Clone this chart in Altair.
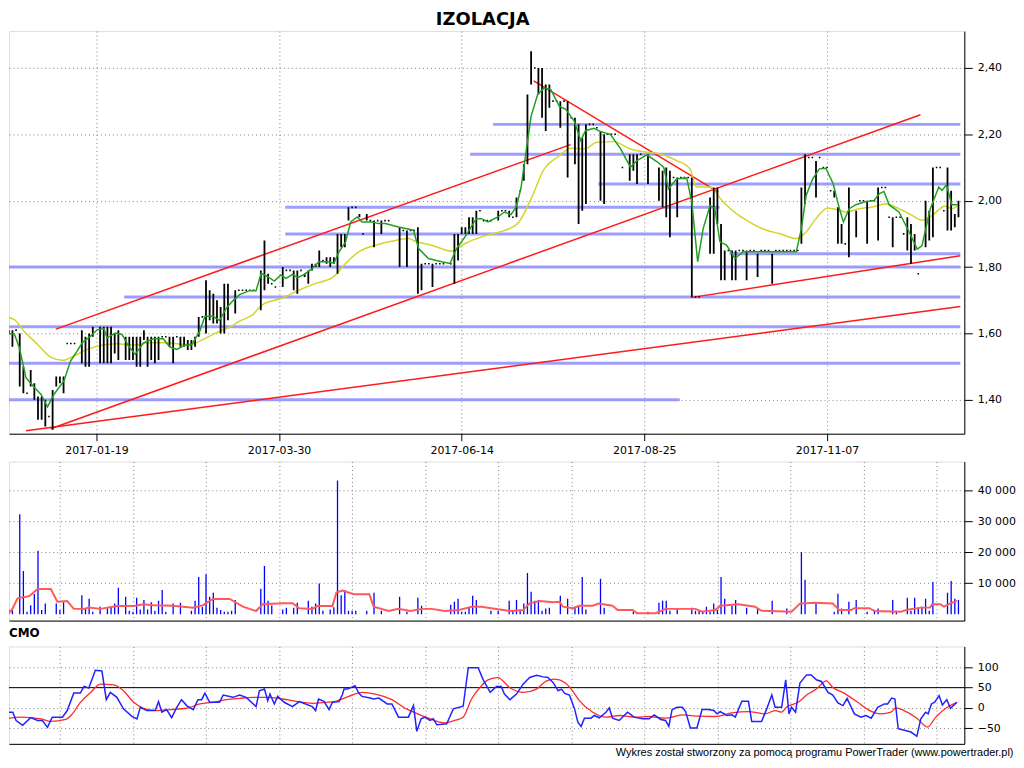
import altair as alt
import pandas as pd

FONT = "DejaVu Sans"
GRID = "#808080"

# ---------------- x axis (trading-day index) ----------------
date_ticks = [25, 75, 125, 175, 225]
date_labels = ["2017-01-19", "2017-03-30", "2017-06-14", "2017-08-25", "2017-11-07"]
grid_ticks = [15, 35, 55, 75, 95, 115, 135, 155, 175, 195, 215, 235, 255]

# ---------------- price bars (high / low per session) ----------------
bar_t = [1, 2, 3, 4, 5, 6, 7, 8, 9, 10,
         11, 12, 13, 14, 15, 16, 17, 18, 19, 21,
         22, 23, 24, 26, 27, 28, 29, 30, 31, 33,
         34, 35, 36, 37, 38, 39, 40, 41, 42, 43,
         44, 45, 46, 47, 48, 49, 50, 51, 52, 53,
         54, 55, 56, 57, 58, 59, 60, 61, 63, 64,
         65, 66, 67, 68, 70, 71, 72, 73, 74, 76,
         77, 78, 79, 80, 81, 82, 83, 84, 85, 86,
         87, 88, 89, 90, 91, 92, 93, 94, 95, 96,
         97, 98, 99, 100, 101, 102, 103, 104, 105, 108,
         109, 110, 111, 112, 113, 114, 115, 116, 117, 118,
         119, 120, 122, 123, 124, 125, 126, 127, 128, 129,
         130, 131, 132, 133, 135, 136, 137, 138, 139, 140,
         141, 142, 143, 144, 145, 146, 147, 148, 149, 150,
         151, 152, 153, 154, 155, 156, 157, 158, 159, 160,
         161, 162, 163, 164, 165, 166, 167, 169, 171, 172,
         173, 174, 176, 179, 180, 181, 182, 183, 184, 185,
         186, 187, 188, 189, 190, 193, 194, 195, 196, 197,
         198, 199, 200, 201, 202, 203, 204, 205, 206, 207,
         208, 209, 210, 211, 212, 213, 214, 215, 216, 217,
         218, 219, 220, 221, 222, 223, 224, 225, 226, 227,
         228, 229, 230, 231, 233, 234, 235, 236, 237, 238,
         239, 240, 241, 242, 243, 244, 245, 246, 247, 248,
         249, 250, 252, 253, 254, 255, 256, 257, 258, 259,
         260, 261]
bar_hi = [1.61, 1.61, 1.61, 1.60, 1.50, 1.42, 1.49, 1.45, 1.41, 1.41,
          1.40, 1.35, 1.43, 1.47, 1.47, 1.47, 1.57, 1.57, 1.57, 1.61,
          1.59, 1.60, 1.62, 1.62, 1.62, 1.62, 1.62, 1.60, 1.61, 1.59,
          1.59, 1.59, 1.59, 1.59, 1.61, 1.59, 1.59, 1.59, 1.59, 1.59,
          1.59, 1.59, 1.59, 1.59, 1.59, 1.59, 1.58, 1.58, 1.59, 1.65,
          1.65, 1.76, 1.73, 1.72, 1.70, 1.68, 1.75, 1.75, 1.73, 1.73,
          1.73, 1.73, 1.73, 1.73, 1.79, 1.88, 1.78, 1.75, 1.74, 1.80,
          1.79, 1.79, 1.79, 1.79, 1.79, 1.78, 1.79, 1.81, 1.81, 1.85,
          1.82, 1.83, 1.83, 1.83, 1.90, 1.90, 1.90, 1.98, 1.98, 1.98,
          1.96, 1.90, 1.96, 1.94, 1.94, 1.94, 1.94, 1.94, 1.94, 1.92,
          1.91, 1.91, 1.91, 1.91, 1.92, 1.81, 1.81, 1.81, 1.81, 1.81,
          1.81, 1.81, 1.81, 1.90, 1.90, 1.92, 1.92, 1.95, 1.95, 1.97,
          1.97, 1.94, 1.94, 1.94, 1.97, 1.97, 1.97, 1.97, 1.95, 2.01,
          2.03, 2.11, 2.32, 2.45, 2.40, 2.40, 2.40, 2.35, 2.35, 2.30,
          2.30, 2.30, 2.30, 2.30, 2.25, 2.25, 2.23, 2.19, 2.23, 2.23,
          2.23, 2.22, 2.21, 2.20, 2.20, 2.20, 2.20, 2.10, 2.14, 2.14,
          2.14, 2.14, 2.14, 2.10, 2.09, 2.10, 2.09, 2.07, 2.07, 2.07,
          2.07, 2.07, 2.07, 1.71, 1.71, 2.01, 2.04, 2.04, 1.93, 1.85,
          1.85, 1.85, 1.85, 1.85, 1.85, 1.85, 1.85, 1.85, 1.84, 1.85,
          1.85, 1.85, 1.84, 1.85, 1.85, 1.85, 1.85, 1.85, 1.85, 1.85,
          2.04, 2.14, 2.13, 2.13, 2.12, 2.13, 2.10, 2.10, 2.03, 2.03,
          1.98, 1.93, 1.87, 2.04, 1.97, 2.00, 2.00, 2.00, 2.00, 2.00,
          2.04, 2.04, 2.04, 1.95, 1.95, 1.95, 1.95, 1.90, 1.95, 1.93,
          1.90, 1.78, 2.00, 1.97, 2.10, 2.10, 2.10, 1.97, 2.10, 2.03,
          1.96, 2.00]
bar_lo = [1.60, 1.56, 1.61, 1.44, 1.42, 1.42, 1.44, 1.40, 1.34, 1.34,
          1.32, 1.35, 1.31, 1.44, 1.45, 1.42, 1.57, 1.57, 1.57, 1.51,
          1.50, 1.50, 1.59, 1.51, 1.51, 1.51, 1.51, 1.54, 1.52, 1.52,
          1.52, 1.52, 1.50, 1.50, 1.58, 1.50, 1.52, 1.51, 1.52, 1.59,
          1.59, 1.56, 1.51, 1.59, 1.56, 1.56, 1.55, 1.55, 1.56, 1.59,
          1.65, 1.60, 1.64, 1.63, 1.63, 1.60, 1.60, 1.64, 1.66, 1.73,
          1.73, 1.73, 1.73, 1.73, 1.67, 1.73, 1.75, 1.75, 1.74, 1.74,
          1.79, 1.79, 1.73, 1.72, 1.79, 1.77, 1.75, 1.79, 1.80, 1.80,
          1.82, 1.81, 1.80, 1.81, 1.78, 1.86, 1.86, 1.94, 1.98, 1.98,
          1.95, 1.90, 1.94, 1.94, 1.86, 1.94, 1.90, 1.94, 1.94, 1.80,
          1.91, 1.80, 1.91, 1.91, 1.72, 1.73, 1.81, 1.81, 1.74, 1.81,
          1.81, 1.81, 1.81, 1.75, 1.82, 1.90, 1.90, 1.90, 1.90, 1.90,
          1.97, 1.94, 1.94, 1.94, 1.94, 1.97, 1.97, 1.95, 1.95, 1.95,
          2.03, 2.06, 2.11, 2.35, 2.40, 2.32, 2.25, 2.21, 2.28, 2.30,
          2.30, 2.22, 2.30, 2.07, 2.25, 2.11, 1.93, 1.97, 1.99, 2.23,
          2.23, 2.22, 2.00, 1.99, 2.20, 2.20, 2.20, 2.10, 2.06, 2.09,
          2.05, 2.14, 2.05, 2.00, 1.98, 1.95, 1.89, 2.07, 1.95, 2.07,
          2.07, 2.07, 1.71, 1.71, 1.71, 1.84, 1.84, 1.93, 1.76, 1.76,
          1.85, 1.76, 1.76, 1.85, 1.85, 1.76, 1.85, 1.85, 1.77, 1.85,
          1.85, 1.85, 1.75, 1.85, 1.85, 1.85, 1.85, 1.85, 1.85, 1.85,
          1.87, 1.99, 2.13, 2.13, 2.01, 2.13, 2.10, 2.10, 2.03, 2.01,
          1.87, 1.87, 1.87, 1.83, 1.89, 2.00, 2.00, 1.87, 2.00, 2.00,
          1.88, 2.04, 2.04, 1.95, 1.86, 1.95, 1.95, 1.90, 1.85, 1.81,
          1.85, 1.78, 1.86, 1.88, 1.89, 2.10, 2.10, 1.97, 1.91, 1.91,
          1.92, 1.95]

# ---------------- moving averages on price ----------------
green_t = [0, 2.5, 3.9, 5.7, 8.0, 9.8, 11.6, 13.4, 16.1, 17.9, 19.7, 21.1, 23.4, 25.2, 27.0, 27.9,
           30.2, 32.0, 33.8, 35.6, 37.9, 40.6, 43.3, 45.1, 47.0, 49.2, 51.0, 53.3, 54.7, 56.9,
           58.7, 60.6, 62.4, 64.2, 66.9, 68.7, 70.1, 71.9, 73.7, 75.5, 76.9, 78.7, 80.1, 81.9,
           84.1, 85.9, 88.7, 90.0, 91.4, 93.2, 94.6, 96.4, 97.7, 100.5, 102.3, 104.1, 107.7,
           111.8, 113.2, 115.9, 119.5, 121.8, 123.6, 125.9, 129.0, 130.4, 132.2, 134.9, 136.7,
           138.5, 139.9, 141.2, 142.6, 144.0, 145.8, 147.6, 149.4, 151.7, 153.5, 155.8, 157.6,
           158.9, 161.2, 163.0, 165.7, 168.5, 171.2, 173.0, 175.7, 178.4, 180.3, 181.6, 183.9,
           186.6, 188.0, 189.6, 191.1, 193.0, 194.3, 195.7, 197.5, 199.8, 202.0, 205.6, 216.6,
           218.0, 219.3, 221.1, 222.9, 224.7, 226.7, 228.4, 229.5, 231.1, 232.9, 235.2, 237.9,
           239.3, 240.6, 242.0, 244.7, 247.4, 249.7, 251.0, 253.3, 255.6, 256.5, 257.7, 259.2,
           260.7]
green_p = [1.599, 1.599, 1.557, 1.467, 1.437, 1.417, 1.379, 1.417, 1.457, 1.517, 1.547, 1.572,
           1.592, 1.611, 1.615, 1.587, 1.601, 1.597, 1.562, 1.537, 1.572, 1.584, 1.584, 1.559,
           1.552, 1.565, 1.565, 1.607, 1.652, 1.652, 1.639, 1.677, 1.699, 1.717, 1.729, 1.729,
           1.781, 1.771, 1.758, 1.776, 1.766, 1.778, 1.768, 1.778, 1.796, 1.816, 1.816, 1.811,
           1.846, 1.876, 1.936, 1.951, 1.936, 1.936, 1.931, 1.931, 1.921, 1.911, 1.856, 1.826,
           1.816, 1.811, 1.856, 1.891, 1.946, 1.946, 1.936, 1.951, 1.966, 1.958, 1.981, 2.036,
           2.146, 2.255, 2.320, 2.340, 2.335, 2.285, 2.275, 2.240, 2.181, 2.211, 2.218, 2.208,
           2.200, 2.156, 2.101, 2.121, 2.138, 2.118, 2.101, 2.036, 2.066, 2.068, 1.996, 1.816,
           1.916, 1.986, 1.976, 1.876, 1.866, 1.826, 1.846, 1.846, 1.846, 1.916, 2.016, 2.066,
           2.096, 2.098, 2.051, 1.976, 1.936, 1.976, 1.988, 1.996, 2.001, 2.021, 2.028, 1.988,
           1.966, 1.908, 1.854, 1.864, 1.976, 2.041, 2.031, 2.048, 1.988, 1.988]

yellow_t = [0, 2.5, 5.2, 8.9, 12.5, 15.7, 18.8, 22.5, 26.1, 30.6, 35.2, 39.7, 44.2, 48.8, 51.5,
            54.2, 57.8, 61.5, 64.2, 67.8, 70.5, 76.0, 80.5, 85.0, 89.6, 93.2, 96.8, 101.4, 105.9,
            110.4, 112.3, 116.8, 122.2, 125.9, 130.4, 134.9, 140.3, 144.0, 147.6, 151.2, 154.9,
            158.5, 162.1, 166.6, 171.2, 175.7, 179.3, 183.9, 187.5, 189.3, 192.9, 196.6, 200.2,
            203.0, 208.4, 212.0, 216.6, 219.3, 222.0, 225.2, 228.4, 230.2, 233.8, 237.4, 241.1,
            244.7, 248.3, 251.0, 253.8, 257.4, 259.2, 260.7]
yellow_p = [1.650, 1.642, 1.607, 1.567, 1.529, 1.519, 1.532, 1.552, 1.564, 1.569, 1.565, 1.572,
            1.572, 1.567, 1.569, 1.582, 1.602, 1.619, 1.637, 1.657, 1.687, 1.707, 1.731, 1.751,
            1.768, 1.811, 1.846, 1.866, 1.878, 1.886, 1.878, 1.866, 1.848, 1.871, 1.891, 1.904,
            1.931, 2.006, 2.096, 2.131, 2.158, 2.156, 2.176, 2.178, 2.156, 2.146, 2.141, 2.121,
            2.096, 2.041, 2.041, 1.996, 1.961, 1.941, 1.911, 1.901, 1.886, 1.906, 1.946, 1.978,
            1.971, 1.966, 1.976, 1.981, 1.991, 1.976, 1.956, 1.941, 1.956, 1.984, 1.976, 1.984]

# ---------------- support / resistance levels ----------------
hline_p = [2.23, 2.14, 2.05, 1.98, 1.90, 1.84, 1.80, 1.71, 1.62, 1.51, 1.40]
hline_t0 = [133.6, 127.3, 162.4, 76.7, 76.7, 198.3, 0, 32.6, 0, 0, 0]
hline_t1 = [261.5, 261.5, 261.5, 195.6, 192.6, 261.5, 261.5, 261.5, 261.5, 261.5, 184.7]

# ---------------- trend lines ----------------
trend_t0 = [13.9, 12.5, 5.7, 144.7, 187.7]
trend_p0 = [1.613, 1.313, 1.307, 2.361, 1.708]
trend_t1 = [154.8, 250.6, 261.5, 195.3, 261.5]
trend_p1 = [2.169, 2.259, 1.681, 2.026, 1.834]

# ---------------- volume ----------------
vol_t = [1, 2, 4, 5, 6, 7, 8, 9, 10, 11,
         14, 15, 16, 21, 22, 23, 24, 26, 28, 29,
         30, 31, 33, 34, 35, 36, 37, 38, 39, 40,
         41, 42, 43, 44, 46, 48, 51, 52, 53, 54,
         55, 56, 57, 58, 59, 60, 61, 62, 63, 70,
         71, 72, 73, 76, 77, 79, 80, 83, 84, 85,
         86, 87, 89, 90, 91, 92, 93, 94, 95, 96,
         99, 101, 103, 108, 110, 113, 114, 122, 123, 124,
         125, 126, 127, 128, 129, 133, 135, 138, 139, 140,
         141, 142, 143, 144, 145, 146, 147, 148, 149, 152,
         154, 156, 157, 158, 159, 163, 164, 172, 173, 176,
         179, 180, 181, 182, 184, 188, 189, 190, 191, 192,
         193, 194, 195, 196, 197, 199, 200, 203, 206, 210,
         214, 218, 219, 222, 227, 228, 229, 231, 233, 236,
         238, 239, 243, 244, 247, 248, 249, 250, 251, 252,
         253, 254, 258, 259, 260, 261]
vol_v = [1000, 1300, 32200, 13900, 800, 2900, 6500, 20400, 1300, 3400,
         3400, 1300, 3800, 6100, 1900, 5000, 800, 2400, 1900, 2400,
         3400, 8500, 5600, 1100, 800, 5300, 1500, 4600, 1500, 3800,
         1100, 4300, 7800, 800, 3400, 3700, 1100, 4300, 12000, 2400,
         12900, 5600, 6900, 2100, 1300, 800, 800, 1100, 4600, 8200,
         15500, 4300, 2800, 1500, 2100, 2100, 3700, 4300, 2400, 3400,
         9900, 1100, 1500, 2200, 43100, 6100, 7800, 1100, 1100, 1100,
         1100, 6900, 1100, 5600, 800, 5300, 2700, 3000, 4000, 5000,
         800, 800, 2100, 5900, 4600, 1100, 1100, 4300, 1000, 4600,
         1000, 3400, 13300, 7200, 4300, 4600, 1100, 1800, 2100, 5900,
         5000, 2400, 2400, 12000, 1500, 11400, 2100, 800, 500, 800,
         3700, 4300, 4300, 1100, 1800, 2100, 1100, 1100, 800, 2400,
         800, 3400, 1300, 12000, 5000, 2700, 4600, 2100, 1800, 4300,
         1800, 20000, 11100, 3400, 800, 6600, 1800, 4000, 4600, 800,
         1400, 1800, 4600, 1100, 5300, 1100, 5300, 1800, 2400, 5000,
         1100, 10400, 6900, 10700, 5000, 4600]

volma_t = [0, 1.6, 3.4, 6.6, 8.0, 8.9, 12.5, 14.3, 17.0, 18.8, 21.6, 22.9, 26.1, 30.6, 35.2,
           37.9, 40.6, 46.0, 51.5, 54.2, 56.9, 61.5, 65.1, 68.7, 70.5, 76.0, 78.7, 80.5, 84.1,
           85.5, 89.6, 90.7, 92.3, 95.5, 99.7, 100.9, 105.0, 107.7, 110.9, 114.1, 116.8, 120.4,
           124.1, 127.7, 130.4, 133.1, 138.2, 141.8, 143.6, 146.4, 150.0, 151.8, 152.7, 155.4,
           157.2, 160.9, 162.5, 166.3, 167.7, 171.8, 173.1, 178.1, 180.8, 189.0, 190.8, 194.4,
           195.8, 200.8, 205.3, 207.1, 215.3, 217.6, 221.6, 226.6, 228.4, 231.6, 232.5, 236.6,
           238.0, 245.2, 247.0, 250.7, 253.2, 253.8, 256.1, 257.0, 258.8, 260.6]
volma_v = [2100, 800, 5100, 5800, 7200, 8100, 8100, 4000, 4200, 1700, 1700, 2100, 1700, 2600,
           2600, 3200, 2900, 2700, 2100, 2900, 4900, 4900, 2400, 1000, 3200, 3500, 3500, 1900,
           1700, 2600, 2600, 7000, 7600, 6400, 6400, 2400, 1000, 1700, 1000, 1700, 1700, 1000,
           1300, 2400, 2400, 1900, 1000, 1300, 3500, 4200, 3800, 4000, 2400, 1900, 2700, 2700,
           3400, 2700, 1300, 1300, 300, 300, 1700, 1700, 800, 1300, 2700, 3200, 2400, 1100,
           800, 3400, 3700, 3400, 1300, 1300, 1900, 1900, 1000, 800, 1400, 2100, 2100, 3200,
           3200, 2400, 3500, 4300]
vol_ticks = [10000, 20000, 30000, 40000]

# ---------------- CMO ----------------
cmo_t = [0, 2.1, 3.0, 4.8, 7.0, 8.9, 10.2, 11.6, 12.9, 15.7, 17.0, 18.8, 20.6, 21.6, 22.9, 24.7,
         26.5, 27.7, 28.8, 30.6, 32.4, 34.7, 36.1, 37.0, 38.8, 41.1, 42.0, 42.9, 44.2, 45.6,
         47.0, 48.3, 49.7, 51.5, 52.8, 53.8, 54.7, 56.0, 58.7, 59.7, 62.4, 64.2, 66.0, 68.7,
         69.6, 71.0, 71.9, 72.5, 73.7, 74.6, 76.4, 78.7, 80.5, 84.1, 85.0, 85.8, 87.3, 88.7,
         89.6, 91.4, 92.3, 92.8, 93.7, 95.8, 96.8, 97.7, 99.6, 100.9, 102.3, 104.6, 105.9,
         107.7, 110.4, 111.8, 112.7, 113.9, 115.0, 116.3, 117.2, 118.2, 120.9, 122.7, 125.4,
         126.8, 129.5, 130.9, 132.8, 134.5, 135.8, 136.7, 138.2, 140.0, 141.8, 143.6, 145.5,
         147.3, 148.6, 150.0, 151.4, 152.3, 153.2, 154.5, 155.9, 156.8, 157.7, 158.6, 160.4,
         161.3, 162.7, 164.5, 165.4, 166.3, 168.1, 170.4, 172.2, 174.5, 176.3, 177.7, 179.5,
         180.8, 181.7, 182.6, 184.0, 185.4, 186.3, 187.6, 189.4, 190.8, 192.6, 194.0, 194.9,
         195.8, 197.6, 199.0, 199.9, 201.7, 203.5, 204.4, 207.1, 208.5, 209.9, 210.8, 212.6,
         213.7, 214.6, 215.3, 216.4, 217.6, 219.4, 220.7, 222.1, 223.5, 225.3, 226.6, 228.0,
         229.4, 230.5, 232.5, 234.3, 235.7, 237.1, 238.9, 240.7, 241.6, 242.7, 243.6, 244.5,
         248.0, 249.6, 250.7, 252.0, 252.7, 253.6, 254.5, 255.7, 256.6, 257.8, 258.8, 260.6]
cmo_v = [-10.6, -10.6, -31, -43, -24, -31, -31, -48, -23, -23, -6.5, 36.7, 36.7, 53, 49, 93,
         91, 20.4, 38.3, 26.1, -2.4, -21, -27, 1.6, -6.5, -6.5, 15.5, -10.6, -4.1, -24,
         1.6, 20.4, 5.7, -4.1, 20.4, 20.4, 36.7, 13.9, 13.9, 31.8, 26.1, 31.8, 26.1, 3.3,
         42.4, 46.5, 17.9, 34.2, 9.8, 28.5, 13.9, 3.3, 15.5, 3.3, -6.5, 22.0, 16.3, -4.1,
         13.9, 15.5, 31.8, 46.5, 46.5, 54.6, 36.7, 28.5, 25.3, 22.0, 24.4, 9.8, 9.8,
         -22.8, -22.8, 5.7, -57.9, -26.9, -22.8, -31.0, -26.9, -41.6, -39.1, -2.4, 4.1,
         99.4, 99.4, 69.3, 38.3, 53.0, 53.0, 34.2, 20.4, 34.2, 58.7, 75.0, 80.7,
         76.6, 75.0, 62.8, 42.4, 46.5, 35.9, 31.8, -2.4, -35.0, -45.6, -25.3, -25.3,
         -18.7, -24.4, -10.6, 0, -25.3, -31.0, -10.6, -22.8, -26.9, -26.9, -17.1, -28.5,
         -31.0, -45.6, -4.1, 1.6, 1.6, -9.0, -49.7, -49.7, -4.1, -4.1, -6.5, -14.7,
         -9.0, -18.7, -17.1, -22.8, 16.3, 16.3, -33.4, -33.4, -2.4, 31.8, 1.6, 1.6,
         69.3, -14.7, 1.6, -10.6, 61.1, 81.5, 81.5, 69.3, 65.2, 38.3, 31.8, 12.2,
         5.7, 23.6, -14.7, -22.8, -18.7, -25.3, 1.6, 9.8, 9.8, 24.4, 22.0, -51.3,
         -59.5, -70.1, -26.9, -10.6, -14.7, 9.8, 13.9, 30.2, 7.3, 20.4, -0.8, 13.9]

cmosig_t = [0, 4.3, 9.8, 12.5, 16.6, 18.4, 20.6, 23.4, 26.1, 29.7, 32.4, 35.2, 37.9, 41.5, 45.1,
            49.7, 53.3, 56.9, 60.6, 64.2, 67.8, 71.4, 76.0, 79.6, 84.1, 87.8, 90.5, 94.1, 97.7,
            101.4, 105.9, 109.5, 112.3, 115.9, 120.4, 123.1, 125.4, 127.7, 130.4, 132.2, 134.9,
            138.2, 141.8, 145.5, 148.2, 150.4, 153.2, 155.0, 157.2, 160.9, 164.5, 168.1, 172.7,
            176.3, 180.8, 185.4, 189.9, 194.4, 199.0, 203.5, 208.0, 210.8, 212.6, 213.9, 217.1,
            219.8, 222.1, 224.8, 226.6, 229.8, 233.4, 236.2, 239.8, 242.5, 243.9, 246.1, 249.8,
            252.5, 254.8, 257.9, 260.6]
cmosig_v = [-26.9, -22.8, -26.9, -33.4, -28.5, -14.7, 13.9, 38.3, 58.7, 57.0, 42.4, 13.9, -0.8,
            -6.5, -4.1, -0.8, 9.8, 13.9, 20.4, 23.6, 26.1, 26.1, 22.0, 16.3, 11.4, 13.9, 16.3,
            28.5, 38.3, 34.2, 20.4, -0.8, -12.2, -25.3, -36.7, -31.0, -22.8, 22.0, 54.6, 69.3,
            75.0, 49.7, 38.3, 46.5, 66.8, 70.9, 62.8, 46.5, 17.9, -10.6, -22.8, -18.7, -22.8,
            -21.2, -25.3, -17.1, -20.4, -21.2, -12.2, -9.0, -14.7, -6.5, -10.6, 1.6, 13.9,
            34.2, 46.5, 66.8, 50.5, 35.9, 13.9, -4.1, -14.7, -10.6, 0, -6.5, -26.9,
            -47.3, -22.8, 1.6, 13.9]
cmo_levels = [50]
cmo_ticks = [-50, 0, 50, 100]
price_ticks = [1.4, 1.6, 1.8, 2.0, 2.2, 2.4]

FOOTER = "Wykres został stworzony za pomocą programu PowerTrader (www.powertrader.pl)"

# ---------------- frames ----------------
bars_df = pd.DataFrame({"t": bar_t, "hi": bar_hi, "lo": bar_lo})
green_df = pd.DataFrame({"t": green_t, "p": green_p})
yellow_df = pd.DataFrame({"t": yellow_t, "p": yellow_p})
hl_df = pd.DataFrame({"p": hline_p, "t0": hline_t0, "t1": hline_t1})
tr_df = pd.DataFrame({"t0": trend_t0, "p0": trend_p0, "t1": trend_t1, "p1": trend_p1})
vol_df = pd.DataFrame({"t": vol_t, "v": vol_v})
volma_df = pd.DataFrame({"t": volma_t, "v": volma_v})
cmo_df = pd.DataFrame({"t": cmo_t, "c": cmo_v})
cmosig_df = pd.DataFrame({"t": cmosig_t, "c": cmosig_v})
lvl_df = pd.DataFrame({"c": cmo_levels})

W = 961
X_DOMAIN = [1.06, 262.6]

label_expr = " : ".join(
    f"datum.value == {t} ? '{l}'" for t, l in zip(date_ticks, date_labels)) + " : ''"

common = dict(gridColor=GRID, gridDash=[1, 3], gridWidth=1, domainColor="black",
              tickColor="black", labelFont=FONT, labelFontSize=11, labelColor="black")

price_x_axis = alt.Axis(values=date_ticks, labelExpr=label_expr, grid=True, tickSize=7,
                        labelPadding=4, labelFlush=False, labelOverlap=False, **common)
price_y_axis = alt.Axis(orient="right", values=price_ticks, grid=True, tickSize=8, labelPadding=5,
                        labelExpr="replace(format(datum.value, '.2f'), '.', ',')", **common)
vol_x_axis = alt.Axis(values=grid_ticks, grid=True, labels=False, ticks=False, **common)
vol_y_axis = alt.Axis(orient="right", values=vol_ticks, grid=True, tickSize=8, labelPadding=5,
                      labelExpr="replace(format(datum.value, ','), ',', ' ')", **common)
cmo_x_axis = alt.Axis(values=grid_ticks, grid=True, labels=False, ticks=False,
                      title=FOOTER, titleFont="Liberation Sans", titleFontSize=11,
                      titleFontWeight="normal", titleColor="black", titleAlign="right",
                      titleAnchor="end", titleX=1010, titlePadding=3, **common)
cmo_y_axis = alt.Axis(orient="right", values=cmo_ticks, grid=True, tickSize=8, labelPadding=5,
                      format="d", **common)


def xs():
    return alt.Scale(domain=X_DOMAIN, nice=False, zero=False)


def px(field, axis=price_x_axis):
    return alt.X(f"{field}:Q", scale=xs(), axis=axis, title=None)


def py(field):
    return alt.Y(f"{field}:Q", scale=alt.Scale(domain=[1.298, 2.511], nice=False, zero=False),
                 axis=price_y_axis, title=None)


blue = alt.Chart(hl_df).mark_rule(color="#8c8cff", strokeWidth=3, opacity=0.85, clip=True).encode(
    x=px("t0"), x2="t1:Q", y=py("p"))
red = alt.Chart(tr_df).mark_rule(color="#ff1a1a", strokeWidth=1.5, clip=True).encode(
    x=px("t0"), x2="t1:Q", y=py("p0"), y2="p1:Q")
yellow = alt.Chart(yellow_df).mark_line(color="#d4d42a", strokeWidth=1.5, clip=True,
                                         interpolate="monotone").encode(x=px("t"), y=py("p"))
bars = alt.Chart(bars_df).transform_filter("datum.hi > datum.lo").mark_rule(
    color="black", strokeWidth=1.8, clip=True).encode(x=px("t"), y=py("lo"), y2="hi:Q")
dots = alt.Chart(bars_df).transform_filter("datum.hi == datum.lo").mark_square(
    color="black", size=2.5, opacity=1, clip=True).encode(x=px("t"), y=py("hi"))
green = alt.Chart(green_df).mark_line(color="#1f9e1f", strokeWidth=1.5, clip=True).encode(
    x=px("t"), y=py("p"))

price = alt.layer(blue, red, yellow, bars, dots, green).properties(
    width=W, height=405,
    title=alt.TitleParams("IZOLACJA", font=FONT, fontSize=18, fontWeight="bold", color="black",
                          anchor="middle", frame="group", offset=2, dx=-4))


def vx(field):
    return alt.X(f"{field}:Q", scale=xs(), axis=vol_x_axis, title=None)


def vy(field):
    return alt.Y(f"{field}:Q", scale=alt.Scale(domain=[-2080, 49200], nice=False, zero=False),
                 axis=vol_y_axis, title=None)


vbars = alt.Chart(vol_df).mark_rule(color="#0000ff", strokeWidth=1.3, clip=True).encode(
    x=vx("t"), y=vy("v"), y2=alt.datum(0))
vma = alt.Chart(volma_df).mark_line(color="#ff5a5a", strokeWidth=2, clip=True).encode(
    x=vx("t"), y=vy("v"))
volume = alt.layer(vbars, vma).properties(width=W, height=160)


def cx(field):
    return alt.X(f"{field}:Q", scale=xs(), axis=cmo_x_axis)


def cy(field):
    return alt.Y(f"{field}:Q", scale=alt.Scale(domain=[-88.7, 151.7], nice=False, zero=False),
                 axis=cmo_y_axis, title=None)


lvl = alt.Chart(lvl_df).mark_rule(color="black", strokeWidth=1).encode(y=cy("c"))
csig = alt.Chart(cmosig_df).mark_line(color="#ff2a2a", strokeWidth=1.3, clip=True,
                                       interpolate="monotone").encode(x=cx("t"), y=cy("c"))
cline = alt.Chart(cmo_df).mark_line(color="#2222ff", strokeWidth=1.5, clip=True).encode(
    x=cx("t"), y=cy("c"))
cmo = alt.layer(lvl, csig, cline).properties(
    width=W, height=98,
    title=alt.TitleParams("CMO", font=FONT, fontSize=12, fontWeight="bold", color="black",
                          anchor="start", frame="group", offset=7))

chart = alt.vconcat(price, volume, cmo, spacing=4).properties(
    padding={"left": 0, "top": 0, "right": 0, "bottom": 0}
).configure_view(strokeWidth=0).configure(background="white")

chart.save("out.html", embed_options={"renderer": "svg", "actions": False})
